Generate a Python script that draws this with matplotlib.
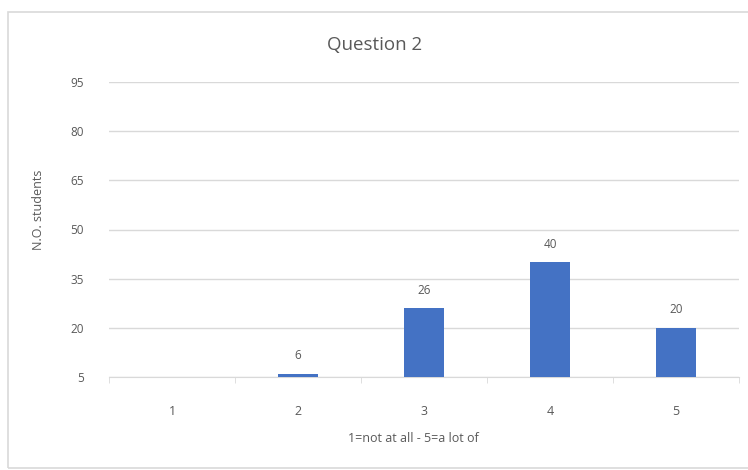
import matplotlib.pyplot as plt
from matplotlib.patches import Rectangle

# data
categories = ['1', '2', '3', '4', '5']
students = [0, 6, 26, 40, 20]
y_ticks = [5, 20, 35, 50, 65, 80, 95]

plt.rcParams['font.family'] = ['Open Sans', 'DejaVu Sans']
grey_txt = '#595959'
bar_col = '#4472c4'

fig = plt.figure(figsize=(7.48, 4.70), dpi=100)
ax = fig.add_axes([109/748, 1 - 377/470, 630/748, 295/470])

x = list(range(len(categories)))
ax.bar(x, students, width=0.31, color=bar_col, zorder=3)
for xi, v in zip(x, students):
    if v > 5:
        ax.text(xi, v + 3.5, str(v), ha='center', va='bottom', fontsize=8.5, color=grey_txt)

ax.set_xlim(-0.5, len(categories) - 0.5)
ax.set_ylim(5, 95)
ax.set_yticks(y_ticks)
ax.set_xticks(x)
ax.set_xticklabels(categories)
ax.set_xticks([i - 0.5 for i in range(len(categories) + 1)], minor=True)
ax.tick_params(axis='x', which='major', length=0, pad=20, labelsize=9, labelcolor=grey_txt)
ax.tick_params(axis='x', which='minor', length=4, color='#d9d9d9', direction='out')
ax.tick_params(axis='y', length=0, pad=18, labelsize=8.5, labelcolor=grey_txt)
ax.grid(axis='y', color='#d9d9d9', linewidth=1, zorder=0)
for s in ['top', 'right', 'left']:
    ax.spines[s].set_visible(False)
ax.spines['bottom'].set_color('#d9d9d9')

fig.text(375/748, 1 - 45/470, 'Question 2', ha='center', va='center', fontsize=13.5, color=grey_txt)
fig.text(38/748, 1 - 210/470, 'N.O. students', rotation=90, ha='center', va='center', fontsize=9, color=grey_txt)
fig.text(413/748, 1 - 438/470, '1=not at all - 5=a lot of', ha='center', va='center', fontsize=9, color=grey_txt)

# chart border (right edge runs off the image)
fig.patches.append(Rectangle((8/748, 2/470), 760/748, 456/470, transform=fig.transFigure,
                             fill=False, edgecolor='#d9d9d9', linewidth=1.2))

fig.savefig('out.png', dpi=100)
